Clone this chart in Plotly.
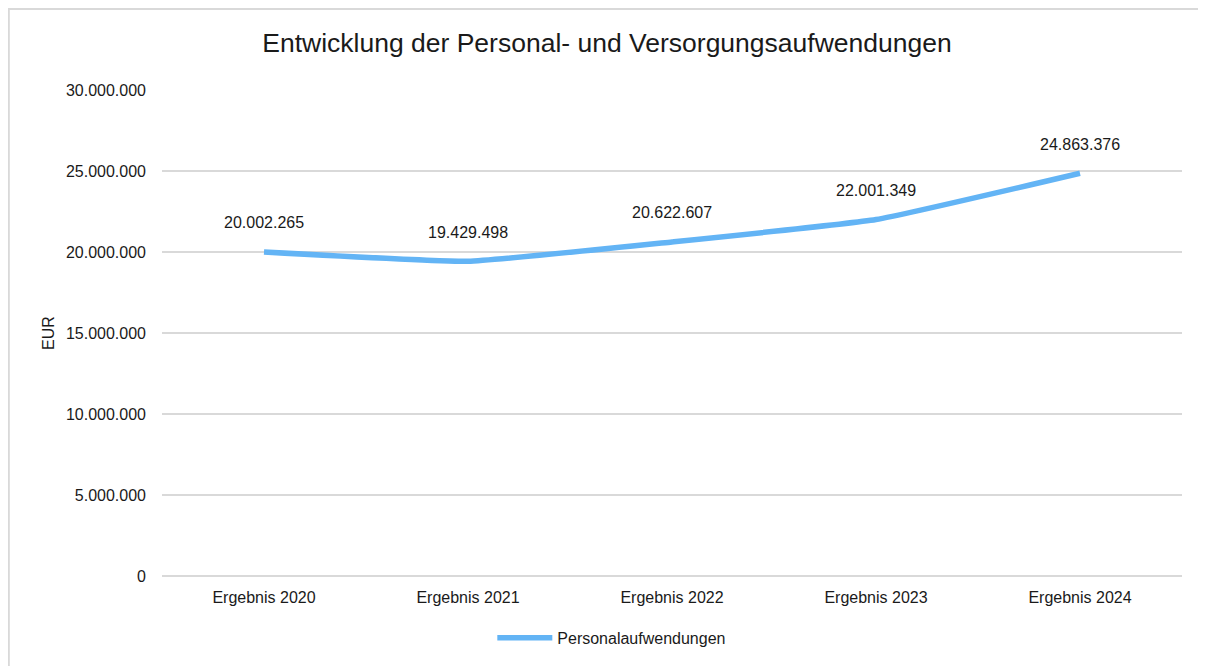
import plotly.graph_objects as go

categories = ["Ergebnis 2020", "Ergebnis 2021", "Ergebnis 2022", "Ergebnis 2023", "Ergebnis 2024"]
personal = [20002265, 19429498, 20622607, 22001349, 24863376]
y_ticks = [0, 5000000, 10000000, 15000000, 20000000, 25000000, 30000000]
series_name = "Personalaufwendungen"
title_text = "Entwicklung der Personal- und Versorgungsaufwendungen"

def de(v):
    return f"{v:,}".replace(",", ".")

FONT = "Liberation Sans, Arial, sans-serif"
TXT = "#1a1a1a"

fig = go.Figure()
fig.add_trace(go.Scatter(
    x=categories, y=personal, mode="lines", name=series_name,
    line=dict(color="#63B4F5", width=5.5, shape="spline", smoothing=0.35),
    hoverinfo="skip",
))

for c, v in zip(categories, personal):
    fig.add_annotation(x=c, y=v, text=de(v), showarrow=False, yshift=29,
                       font=dict(family=FONT, size=16, color=TXT))

fig.add_shape(type="rect", xref="paper", yref="paper",
              x0=-0.1502, x1=1.06, y0=-0.3, y1=1.1668,
              line=dict(color="#D9D9D9", width=2), layer="below")

fig.update_layout(
    width=1198, height=658,
    margin=dict(l=154, r=24, t=82, b=89),
    paper_bgcolor="white", plot_bgcolor="white",
    separators=",.",
    font=dict(family=FONT, size=16, color=TXT),
    title=dict(text=title_text, x=0.5, xref="container", xanchor="center",
               y=0.947, yref="container", yanchor="middle",
               font=dict(family=FONT, size=26.5, color=TXT)),
    xaxis=dict(type="category", range=[-0.5, 4.5], showgrid=False,
               showline=False, ticks="", zeroline=False,
               ticklabelstandoff=10, tickfont=dict(size=16)),
    yaxis=dict(range=[0, 30000000], tickvals=y_ticks,
               ticktext=[de(t) for t in y_ticks],
               showgrid=True, gridcolor="#D9D9D9", gridwidth=1.5,
               zeroline=True, zerolinecolor="#D9D9D9", zerolinewidth=1.5,
               showline=False, ticks="", ticklabelstandoff=15,
               tickfont=dict(size=16),
               title=dict(text="EUR", standoff=7, font=dict(size=16))),
    showlegend=True,
    legend=dict(orientation="h", x=0.441, xanchor="center", y=-0.125,
                yanchor="middle", itemwidth=55,
                font=dict(family=FONT, size=16, color=TXT)),
)

fig.write_html("out.html")
